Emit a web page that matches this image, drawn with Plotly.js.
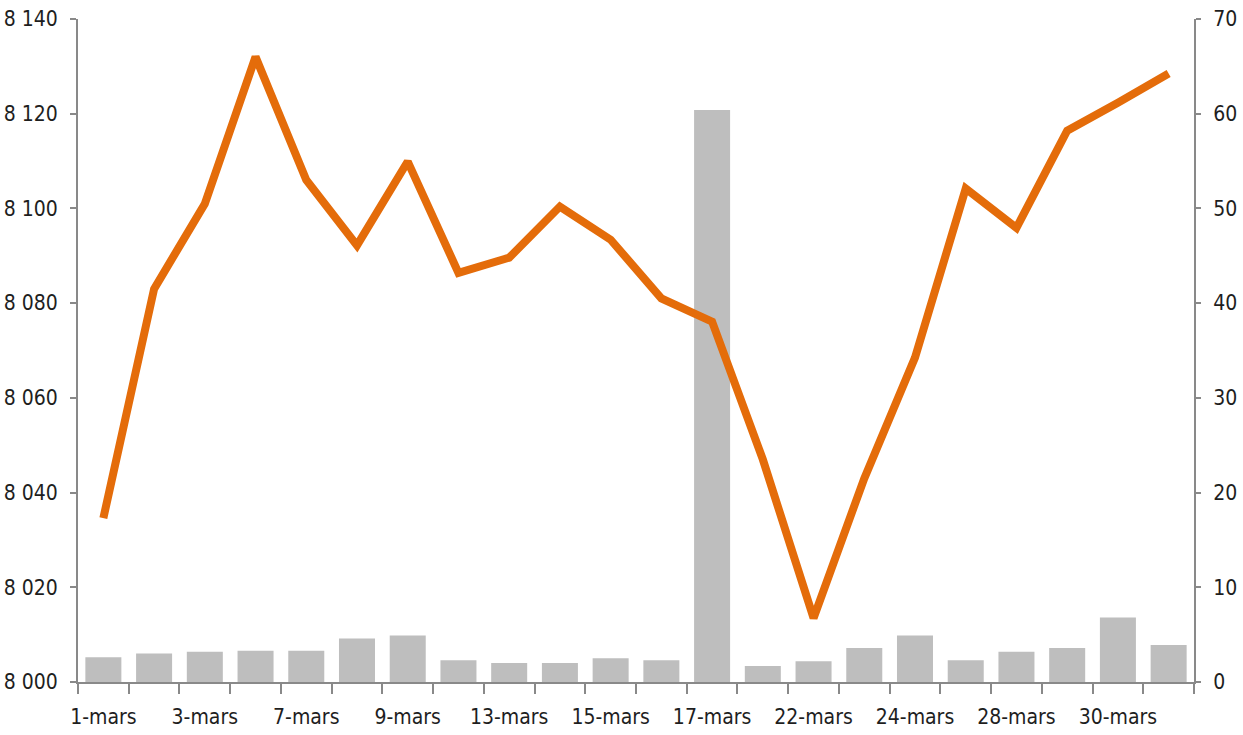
<!DOCTYPE html>
<html>
<head>
<meta charset="utf-8">
<script src="https://cdn.plot.ly/plotly-3.0.1.min.js"></script>
<style>html,body{margin:0;padding:0;background:#fff;}#chart{width:1243px;height:735px;}</style>
</head>
<body>
<div id="chart"></div>
<script>
var categories = ["1-mars","2-mars","3-mars","6-mars","7-mars","8-mars","9-mars","10-mars","13-mars","14-mars","15-mars","16-mars","17-mars","21-mars","22-mars","23-mars","24-mars","27-mars","28-mars","29-mars","30-mars","31-mars"];
var shownLabels = ["1-mars","3-mars","7-mars","9-mars","13-mars","15-mars","17-mars","22-mars","24-mars","28-mars","30-mars"];
var indexValues = [8034.6, 8083.0, 8101.0, 8132.0, 8106.0, 8092.2, 8109.9, 8086.4, 8089.6, 8100.4, 8093.4, 8081.0, 8076.1, 8047.0, 8013.5, 8043.0, 8068.5, 8104.2, 8095.9, 8116.4, 8122.3, 8128.5];
var volumeValues = [2.6, 3.0, 3.2, 3.3, 3.3, 4.6, 4.9, 2.3, 2.0, 2.0, 2.5, 2.3, 60.4, 1.7, 2.2, 3.6, 4.9, 2.3, 3.2, 3.6, 6.8, 3.9];
var leftTickVals = [8000, 8020, 8040, 8060, 8080, 8100, 8120, 8140];
var leftTickText = ["8 000", "8 020", "8 040", "8 060", "8 080", "8 100", "8 120", "8 140"];
var rightTickVals = [0, 10, 20, 30, 40, 50, 60, 70];

var xTickText = categories.map(function (c) { return shownLabels.indexOf(c) >= 0 ? c : ""; });

var FONT = "'Liberation Sans Narrow', 'DejaVu Sans Condensed', 'Arial Narrow', sans-serif";
var AX = "#898989";
var TXT = "#1e1e1e";
var FS = 21;

var traces = [
  {
    type: "bar",
    x: categories,
    y: volumeValues,
    yaxis: "y",
    marker: { color: "#BEBEBE", line: { width: 0 } },
    hoverinfo: "x+y"
  },
  {
    type: "scatter",
    mode: "lines",
    x: categories,
    y: indexValues,
    yaxis: "y2",
    line: { color: "#E46C0A", width: 8, shape: "linear" },
    hoverinfo: "x+y"
  }
];

var layout = {
  width: 1243,
  height: 735,
  margin: { l: 78, r: 49, t: 19, b: 53, pad: 0 },
  paper_bgcolor: "#ffffff",
  plot_bgcolor: "#ffffff",
  showlegend: false,
  bargap: 0.29,
  font: { family: FONT, size: FS, color: TXT },
  xaxis: {
    type: "category",
    tickmode: "array",
    tickvals: categories,
    ticktext: xTickText,
    tickson: "boundaries",
    ticks: "outside",
    ticklen: 10,
    tickwidth: 2,
    tickcolor: AX,
    showline: true,
    linecolor: AX,
    linewidth: 2,
    showgrid: false,
    zeroline: false,
    tickangle: 0,
    tickfont: { family: FONT, size: FS, color: TXT },
    ticklabelstandoff: 15
  },
  yaxis: {
    side: "right",
    range: [0, 70],
    tickmode: "array",
    tickvals: rightTickVals,
    ticks: "outside",
    ticklen: 5,
    tickwidth: 2,
    tickcolor: AX,
    showline: true,
    linecolor: AX,
    linewidth: 2,
    showgrid: false,
    zeroline: false,
    tickfont: { family: FONT, size: FS, color: TXT },
    ticklabelstandoff: 8
  },
  yaxis2: {
    side: "left",
    overlaying: "y",
    range: [8000, 8140],
    tickmode: "array",
    tickvals: leftTickVals,
    ticktext: leftTickText,
    ticks: "outside",
    ticklen: 6,
    tickwidth: 2,
    tickcolor: AX,
    showline: true,
    linecolor: AX,
    linewidth: 2,
    showgrid: false,
    zeroline: false,
    tickfont: { family: FONT, size: FS, color: TXT },
    ticklabelstandoff: 8
  }
};

Plotly.newPlot("chart", traces, layout, { displayModeBar: false, staticPlot: true });
</script>
</body>
</html>
